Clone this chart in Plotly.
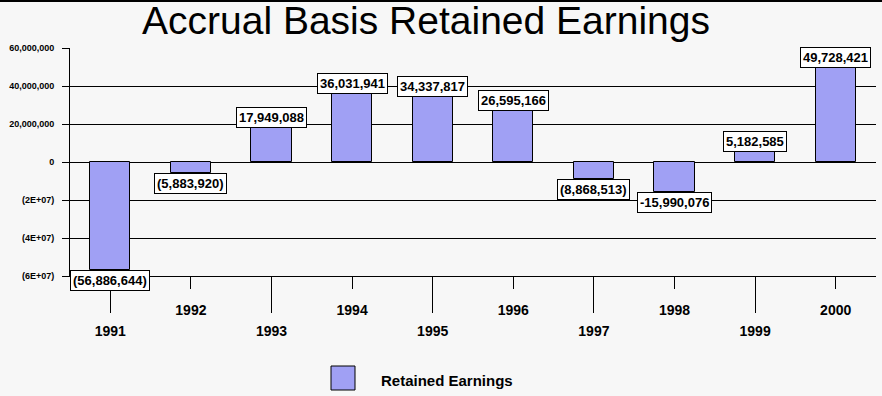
import plotly.graph_objects as go

years = [1991, 1992, 1993, 1994, 1995, 1996, 1997, 1998, 1999, 2000]
earnings = [-56886644, -5883920, 17949088, 36031941, 34337817, 26595166,
            -8868513, -15990076, 5182585, 49728421]
value_labels = ["(56,886,644)", "(5,883,920)", "17,949,088", "36,031,941",
                "34,337,817", "26,595,166", "(8,868,513)", "-15,990,076",
                "5,182,585", "49,728,421"]
y_ticks = [60000000, 40000000, 20000000, 0, -20000000, -40000000, -60000000]
y_ticktext = ["60,000,000", "40,000,000", "20,000,000", "0",
              "(2E+07)", "(4E+07)", "(6E+07)"]
series_name = "Retained Earnings"
title_text = "Accrual Basis Retained Earnings"

BAR = "#a0a0f4"
BG = "#f7f7f7"
FONT = "Liberation Sans, Arial, sans-serif"

fig = go.Figure()
fig.add_trace(go.Bar(
    x=years, y=earnings, width=0.5, name=series_name,
    marker=dict(color=BAR, line=dict(color="black", width=1)),
    showlegend=False, hoverinfo="x+y",
))

even_years = years[1::2]
odd_years = years[0::2]
# invisible helper traces so the staggered label axes render
fig.add_trace(go.Scatter(x=even_years, y=[0] * len(even_years), xaxis="x2",
                         mode="markers", marker=dict(opacity=0),
                         showlegend=False, hoverinfo="skip"))
fig.add_trace(go.Scatter(x=odd_years, y=[0] * len(odd_years), xaxis="x3",
                         mode="markers", marker=dict(opacity=0),
                         showlegend=False, hoverinfo="skip"))

for yr, v, lab in zip(years, earnings, value_labels):
    fig.add_annotation(
        x=yr, y=v, xref="x", yref="y", text="<b>" + lab + "</b>",
        showarrow=False, yanchor="bottom" if v >= 0 else "top",
        font=dict(family=FONT, size=13, color="black"),
        bgcolor="white", bordercolor="black", borderwidth=1, borderpad=2,
    )

xr = [years[0] - 0.5, years[-1] + 0.5]
fig.update_layout(
    width=882, height=396,
    margin=dict(l=70, r=6, t=48, b=120),
    paper_bgcolor=BG, plot_bgcolor=BG,
    bargap=0,
    title=dict(text=title_text, x=426 / 882, xanchor="center",
               y=1 - 20 / 396, yanchor="middle",
               font=dict(family=FONT, size=39, color="black")),
    xaxis=dict(range=xr, showgrid=False, zeroline=False, showline=True,
               linecolor="black", linewidth=1, ticks="", showticklabels=False),
    xaxis2=dict(range=xr, overlaying="x", side="bottom", showgrid=False,
                zeroline=False, showline=False, tickmode="array",
                tickvals=even_years,
                ticktext=["<b>%d</b>" % y for y in even_years],
                ticks="outside", ticklen=12, tickcolor="black", tickwidth=1,
                ticklabelstandoff=9,
                tickfont=dict(family=FONT, size=14, color="black")),
    xaxis3=dict(range=xr, overlaying="x", side="bottom", showgrid=False,
                zeroline=False, showline=False, tickmode="array",
                tickvals=odd_years,
                ticktext=["<b>%d</b>" % y for y in odd_years],
                ticks="outside", ticklen=36, tickcolor="black", tickwidth=1,
                ticklabelstandoff=6,
                tickfont=dict(family=FONT, size=14, color="black")),
    yaxis=dict(range=[-60000000, 60000000], tickmode="array",
               tickvals=y_ticks,
               ticktext=["<b>%s</b>" % t for t in y_ticktext],
               showgrid=True, gridcolor="black", gridwidth=1,
               zeroline=True, zerolinecolor="black", zerolinewidth=1,
               showline=True, linecolor="black", linewidth=1,
               ticks="outside", ticklen=7, tickcolor="black",
               ticklabelstandoff=6,
               tickfont=dict(family=FONT, size=9, color="black")),
    showlegend=False,
)

# top border line of the image
fig.add_shape(type="line", xref="paper", yref="paper",
              x0=-70 / 806, x1=1 + 6 / 806, y0=1 + 47 / 228, y1=1 + 47 / 228,
              line=dict(color="black", width=2))

# manual legend
fig.add_shape(type="rect", xref="paper", yref="paper",
              x0=(331 - 70) / 806, x1=(355 - 70) / 806,
              y0=(276 - 390) / 228, y1=(276 - 366) / 228,
              fillcolor=BAR, line=dict(color="black", width=1))
fig.add_annotation(xref="paper", yref="paper", x=(379 - 70) / 806,
                   y=(276 - 380) / 228, xanchor="left", yanchor="middle",
                   text="<b>" + series_name + "</b>", showarrow=False,
                   font=dict(family=FONT, size=15, color="black"))

fig.write_html("out.html",
               config={"displayModeBar": False},
               post_script="document.body.style.margin='0';"
                           "document.body.style.background='%s';" % BG)
